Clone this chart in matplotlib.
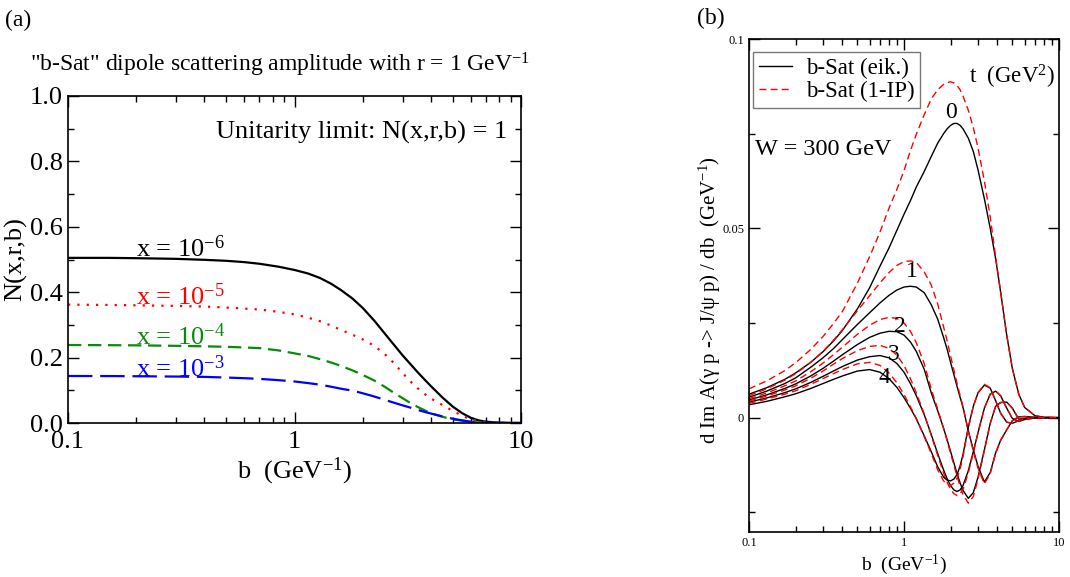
import numpy as np
import matplotlib
matplotlib.use("Agg")
import matplotlib.pyplot as plt
from matplotlib.ticker import FixedLocator, NullFormatter, LogLocator, FixedFormatter

plt.rcParams['font.family'] = ['Liberation Serif', 'DejaVu Serif']
plt.rcParams['mathtext.fontset'] = 'custom'
plt.rcParams['mathtext.rm'] = 'Liberation Serif'
plt.rcParams['mathtext.it'] = 'Liberation Serif:italic'

# ---------------- panel (a) data ----------------
b_a = [0.1, 0.15, 0.2, 0.3, 0.4, 0.5, 0.6, 0.7, 0.85, 1.0, 1.15, 1.3, 1.45, 1.6, 1.8, 2.0, 2.25, 2.5, 2.75,
       3.0, 3.25, 3.5, 3.75, 4.0, 4.5, 5.0, 5.5, 6.0, 6.5, 7.0, 8.0, 10.0]
N_x6 = [0.505, 0.505, 0.504, 0.502, 0.499, 0.496, 0.492, 0.487, 0.478, 0.468, 0.457, 0.443, 0.426, 0.407, 0.381, 0.352, 0.313, 0.274, 0.239,
        0.207, 0.180, 0.155, 0.133, 0.113, 0.078, 0.050, 0.030, 0.016, 0.008, 0.004, 0.001, 0.0]
N_x5 = [0.362, 0.361, 0.360, 0.358, 0.356, 0.353, 0.350, 0.347, 0.340, 0.332, 0.322, 0.311, 0.298, 0.285, 0.270, 0.256, 0.236, 0.211, 0.183,
        0.153, 0.127, 0.106, 0.089, 0.075, 0.055, 0.037, 0.022, 0.011, 0.006, 0.003, 0.0007, 0.0]
N_x4 = [0.2385, 0.238, 0.2375, 0.236, 0.2345, 0.233, 0.231, 0.229, 0.222, 0.213, 0.205, 0.195, 0.185, 0.175, 0.161, 0.147, 0.130, 0.111, 0.092,
        0.076, 0.061, 0.049, 0.039, 0.030, 0.019, 0.011, 0.007, 0.004, 0.002, 0.001, 0.0002, 0.0]
N_x3 = [0.1437, 0.1435, 0.143, 0.142, 0.141, 0.139, 0.137, 0.135, 0.131, 0.127, 0.122, 0.117, 0.111, 0.105, 0.099, 0.091, 0.081, 0.071, 0.062,
        0.054, 0.047, 0.040, 0.034, 0.029, 0.020, 0.013, 0.008, 0.004, 0.002, 0.001, 0.0002, 0.0]
x_labels = ["x = 10$^{-6}$", "x = 10$^{-5}$", "x = 10$^{-4}$", "x = 10$^{-3}$"]

# ---------------- panel (b) data ----------------
b_b = [0.1, 0.13, 0.17, 0.2, 0.25, 0.3, 0.35, 0.4, 0.5, 0.6, 0.7, 0.8, 0.9, 1.0, 1.1, 1.2, 1.35, 1.5,
       1.65, 1.8, 1.9, 2.0, 2.1, 2.2, 2.3, 2.4, 2.6, 2.8, 3.0, 3.3, 3.6, 3.9, 4.2, 4.6, 5.0, 5.5, 6.0, 7.0, 8.0, 10.0]
eik_t0 = [0.0062, 0.0079, 0.0101, 0.0118, 0.0146, 0.0174, 0.0202, 0.0230, 0.0287, 0.0343, 0.0400, 0.0448, 0.0495, 0.0537, 0.0573, 0.0609, 0.0650, 0.0690,
          0.0725, 0.0750, 0.0763, 0.0772, 0.0777, 0.0777, 0.0772, 0.0763, 0.0738, 0.0703, 0.0655, 0.0578, 0.0500, 0.0420, 0.0332, 0.0218, 0.0130, 0.0062, 0.0027, 0.0005, 0.0001, 0.0]
ip_t0 = [0.0076, 0.0097, 0.0124, 0.0145, 0.0180, 0.0214, 0.0248, 0.0280, 0.0355, 0.0425, 0.0490, 0.0553, 0.0603, 0.0652, 0.0705, 0.0748, 0.0800, 0.0842,
         0.0866, 0.0880, 0.0885, 0.0887, 0.0884, 0.0877, 0.0866, 0.0850, 0.0812, 0.0766, 0.0713, 0.0625, 0.0530, 0.0425, 0.0332, 0.0218, 0.0130, 0.0062, 0.0027, 0.0005, 0.0001, 0.0]
eik_t1 = [0.0054, 0.0070, 0.0090, 0.0105, 0.0133, 0.0158, 0.0182, 0.0206, 0.0246, 0.0277, 0.0303, 0.0323, 0.0337, 0.0345, 0.0347, 0.0345, 0.0330, 0.0298,
          0.0260, 0.0212, 0.0180, 0.0145, 0.0113, 0.0082, 0.0054, 0.0028, -0.0035, -0.0085, -0.0128, -0.0170, -0.0145, -0.0093, -0.0060, -0.0032, -0.0008, 0.0002, 0.0003, 0.0001, 0.0, 0.0]
ip_t1 = [0.0058, 0.0076, 0.0099, 0.0116, 0.0146, 0.0175, 0.0204, 0.0232, 0.0282, 0.0322, 0.0356, 0.0383, 0.0402, 0.0412, 0.0414, 0.0410, 0.0385, 0.0350,
         0.0300, 0.0240, 0.0202, 0.0162, 0.0125, 0.0090, 0.0059, 0.0030, -0.0035, -0.0088, -0.0133, -0.0175, -0.0148, -0.0095, -0.0060, -0.0032, -0.0008, 0.0002, 0.0003, 0.0001, 0.0, 0.0]
eik_t2 = [0.0047, 0.0060, 0.0077, 0.0089, 0.0110, 0.0130, 0.0149, 0.0166, 0.0193, 0.0212, 0.0223, 0.0228, 0.0227, 0.0218, 0.0200, 0.0175, 0.0128, 0.0065,
          0.0018, -0.0028, -0.0059, -0.0090, -0.0120, -0.0148, -0.0172, -0.0192, -0.0213, -0.0198, -0.0158, -0.0085, -0.0015, 0.0030, 0.0040, 0.0041, 0.0025, -0.0004, -0.0002, 0.0, 0.0, 0.0]
ip_t2 = [0.0050, 0.0065, 0.0084, 0.0097, 0.0121, 0.0144, 0.0166, 0.0186, 0.0220, 0.0244, 0.0259, 0.0265, 0.0262, 0.0250, 0.0228, 0.0198, 0.0143, 0.0075,
         0.0022, -0.0028, -0.0062, -0.0095, -0.0126, -0.0155, -0.0181, -0.0202, -0.0226, -0.0208, -0.0163, -0.0087, -0.0015, 0.0030, 0.0040, 0.0041, 0.0025, -0.0004, -0.0002, 0.0, 0.0, 0.0]
eik_t3 = [0.0041, 0.0052, 0.0066, 0.0076, 0.0093, 0.0109, 0.0123, 0.0135, 0.0152, 0.0161, 0.0164, 0.0158, 0.0143, 0.0120, 0.0090, 0.0058, 0.0008, -0.0045,
          -0.0095, -0.0138, -0.0162, -0.0180, -0.0191, -0.0195, -0.0191, -0.0180, -0.0140, -0.0090, -0.0040, 0.0025, 0.0062, 0.0070, 0.0058, 0.0025, -0.0002, -0.0010, -0.0005, -0.0001, 0.0, 0.0]
ip_t3 = [0.0044, 0.0057, 0.0073, 0.0084, 0.0104, 0.0123, 0.0141, 0.0156, 0.0177, 0.0188, 0.0191, 0.0183, 0.0165, 0.0138, 0.0103, 0.0066, 0.0010, -0.0047,
         -0.0100, -0.0146, -0.0171, -0.0190, -0.0201, -0.0206, -0.0201, -0.0190, -0.0146, -0.0093, -0.0041, 0.0025, 0.0062, 0.0070, 0.0058, 0.0025, -0.0002, -0.0010, -0.0005, -0.0001, 0.0, 0.0]
eik_t4 = [0.0034, 0.0043, 0.0055, 0.0063, 0.0077, 0.0090, 0.0101, 0.0110, 0.0123, 0.0127, 0.0120, 0.0103, 0.0080, 0.0053, 0.0025, -0.0003, -0.0048, -0.0090,
          -0.0130, -0.0157, -0.0165, -0.0167, -0.0162, -0.0150, -0.0128, -0.0098, -0.0025, 0.0030, 0.0065, 0.0086, 0.0078, 0.0045, 0.0012, -0.0012, -0.0015, -0.0008, -0.0003, 0.0, 0.0, 0.0]
ip_t4 = [0.0038, 0.0049, 0.0062, 0.0071, 0.0088, 0.0103, 0.0116, 0.0127, 0.0142, 0.0146, 0.0138, 0.0118, 0.0092, 0.0061, 0.0029, -0.0002, -0.0050, -0.0095,
         -0.0138, -0.0167, -0.0176, -0.0179, -0.0173, -0.0160, -0.0136, -0.0104, -0.0027, 0.0030, 0.0066, 0.0088, 0.0079, 0.0045, 0.0012, -0.0012, -0.0015, -0.0008, -0.0003, 0.0, 0.0, 0.0]
t_labels = ["0", "1", "2", "3", "4"]

fig = plt.figure(figsize=(10.7, 5.77), dpi=100)

# ================= panel (a) =================
ax = fig.add_axes([68/1070, 1-423/577, 453/1070, 327/577])
ax.plot(b_a, N_x6, color='black', lw=1.6, ls='-')
ax.plot(b_a, N_x5, color='red', lw=1.6, ls=(0, (1.0, 3.2)))
ax.plot(b_a, N_x4, color='#0a8a0a', lw=1.6, ls=(0, (6, 3)))
ax.plot(b_a, N_x3, color='blue', lw=1.6, ls=(0, (11, 3.5)))
ax.set_xscale('log')
ax.set_xlim(0.1, 10)
ax.set_ylim(0, 1)
ax.yaxis.set_major_locator(FixedLocator([0, 0.2, 0.4, 0.6, 0.8, 1.0]))
ax.yaxis.set_minor_locator(FixedLocator([0.1, 0.3, 0.5, 0.7, 0.9]))
ax.set_yticklabels(["0.0", "0.2", "0.4", "0.6", "0.8", "1.0"])
ax.xaxis.set_major_locator(FixedLocator([0.1, 1, 10]))
ax.xaxis.set_major_formatter(FixedFormatter(["0.1", "1", "10"]))
ax.xaxis.set_minor_locator(LogLocator(base=10, subs=np.arange(2, 10)))
ax.xaxis.set_minor_formatter(NullFormatter())
ax.tick_params(which='both', direction='in', top=True, right=True, labelsize=19, width=1.0)
ax.tick_params(which='major', length=8)
ax.tick_params(which='minor', length=4)
ax.tick_params(axis='x', pad=6)
for s in ax.spines.values():
    s.set_linewidth(1.2)
ax.set_xlabel("b  (GeV$^{-1}$)", fontsize=19, labelpad=2)
ax.set_ylabel("N(x,r,b)", fontsize=19, labelpad=2)
ax.text(0.97, 0.89, "Unitarity limit: N(x,r,b) = 1", transform=ax.transAxes,
        ha='right', va='center', fontsize=19)
cols_a = ['black', 'red', '#0a8a0a', 'blue']
ypos = [0.509, 0.361, 0.238, 0.1417]
for lab, c, yy in zip(x_labels, cols_a, ypos):
    ax.text(0.2, yy, lab, color=c, fontsize=19, ha='left', va='baseline')
fig.text(5/1070, 1-20/577, "(a)", fontsize=17, ha='left', va='center')
fig.text(30/1070, 1-65/577, "\"b-Sat\" dipole scattering amplitude with r = 1 GeV$^{-1}$",
         fontsize=17, ha='left', va='center')

# ================= panel (b) =================
bx = fig.add_axes([749/1070, 1-532/577, 310/1070, 493/577])
eik = [eik_t0, eik_t1, eik_t2, eik_t3, eik_t4]
ip = [ip_t0, ip_t1, ip_t2, ip_t3, ip_t4]
for i, (e, p) in enumerate(zip(eik, ip)):
    bx.plot(b_b, e, color='black', lw=1.0, ls='-', label="b-Sat (eik.)" if i == 0 else None)
    bx.plot(b_b, p, color='red', lw=1.0, ls=(0, (5, 3)), label="b-Sat (1-IP)" if i == 0 else None)
bx.set_xscale('log')
bx.set_xlim(0.1, 10)
bx.set_ylim(-0.0302, 0.1)
bx.yaxis.set_major_locator(FixedLocator([0, 0.05, 0.1]))
bx.yaxis.set_major_formatter(FixedFormatter(["0", "0.05", "0.1"]))
bx.yaxis.set_minor_locator(FixedLocator([-0.025, 0.025, 0.075]))
bx.xaxis.set_major_locator(FixedLocator([0.1, 1, 10]))
bx.xaxis.set_major_formatter(FixedFormatter(["0.1", "1", "10"]))
bx.xaxis.set_minor_locator(LogLocator(base=10, subs=np.arange(2, 10)))
bx.xaxis.set_minor_formatter(NullFormatter())
bx.tick_params(which='both', direction='in', top=True, right=True, labelsize=9, width=1.0)
bx.tick_params(which='major', length=8)
bx.tick_params(which='minor', length=4)
for s in bx.spines.values():
    s.set_linewidth(1.2)
bx.set_xlabel("b  (GeV$^{-1}$)", fontsize=14, labelpad=3)
bx.set_ylabel("d Im A(\u03b3 p -> J/\u03c8 p) / db  (GeV$^{-1}$)", fontsize=15)
bx.yaxis.set_label_coords(-0.083, 0.47)
leg = bx.legend(loc='upper left', bbox_to_anchor=(4/310, 1-13/493), fontsize=16.5, frameon=True,
                fancybox=False, edgecolor='#555555', handlelength=1.45, borderpad=0.25,
                labelspacing=0.1, borderaxespad=0.0, handletextpad=0.6)
leg.get_frame().set_linewidth(1.0)
bx.text(2.62, 0.0900, "t  (GeV$^{2}$)", fontsize=16.5, ha='left', va='center')
tpos = [(2.01, 0.0805), (1.13, 0.0386), (0.942, 0.0242), (0.854, 0.0167), (0.75, 0.0106)]
for lab, (xx, yy) in zip(t_labels, tpos):
    bx.text(xx, yy, lab, fontsize=17, ha='center', va='center')
bx.text(0.02, 0.775, "W = 300 GeV", transform=bx.transAxes, fontsize=17.5, ha='left', va='center')
fig.text(697/1070, 1-18/577, "(b)", fontsize=17, ha='left', va='center')

fig.savefig("out.png", dpi=100)
